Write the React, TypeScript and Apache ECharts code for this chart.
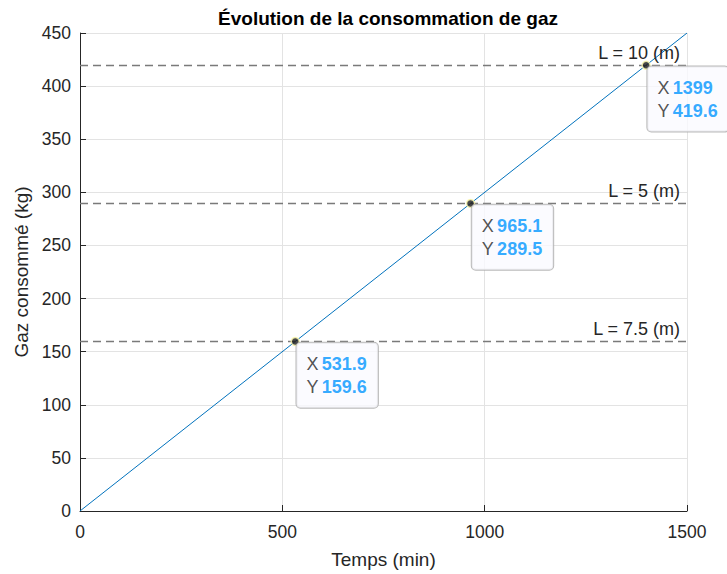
import React, { useEffect, useRef } from "react";
import * as echarts from "echarts";

const lineX = [0, 1500];
const lineY = [0, 450];
const tipX = [531.9, 965.1, 1399];
const tipY = [159.6, 289.5, 419.6];
const refValues = [419.6, 289.5, 159.6];
const refLabels = ["L = 10 (m)", "L = 5 (m)", "L = 7.5 (m)"];

const FONT = "'Liberation Sans', Arial, sans-serif";

export default function App() {
  const ref = useRef<HTMLDivElement>(null);
  useEffect(() => {
    if (!ref.current) return;
    const chart = echarts.init(ref.current, undefined, { renderer: "svg" });
    chart.setOption({
      animation: false,
      backgroundColor: "#ffffff",
      textStyle: { fontFamily: FONT },
      title: {
        text: "Évolution de la consommation de gaz",
        left: 383,
        textAlign: "center",
        top: 4,
        textStyle: { fontFamily: FONT, fontSize: 19, fontWeight: "bold", color: "#000" },
      },
      grid: { left: 80, right: 40, top: 33, bottom: 57, containLabel: false },
      xAxis: {
        type: "value",
        min: 0,
        max: 1500,
        interval: 500,
        name: "Temps (min)",
        nameLocation: "middle",
        nameGap: 39,
        nameTextStyle: { fontFamily: FONT, fontSize: 19, color: "#262626" },
        axisLine: { show: true, lineStyle: { color: "#262626", width: 1 } },
        axisTick: { show: true, inside: true, length: 6, lineStyle: { color: "#262626" } },
        axisLabel: {
          fontFamily: FONT,
          fontSize: 17.5,
          color: "#262626",
          margin: 12,
          formatter: (v: number) => String(v),
        },
        splitLine: { show: true, lineStyle: { color: "#e3e3e3", width: 1 } },
      },
      yAxis: {
        type: "value",
        min: 0,
        max: 450,
        interval: 50,
        name: "Gaz consommé (kg)",
        nameLocation: "middle",
        nameGap: 43,
        nameRotate: 90,
        nameTextStyle: { fontFamily: FONT, fontSize: 19, color: "#262626" },
        axisLine: { show: true, lineStyle: { color: "#262626", width: 1 } },
        axisTick: { show: true, inside: true, length: 6, lineStyle: { color: "#262626" } },
        axisLabel: { fontFamily: FONT, fontSize: 17.5, color: "#262626", margin: 9 },
        splitLine: { show: true, lineStyle: { color: "#e3e3e3", width: 1 } },
      },
      series: [
        {
          type: "line",
          data: lineX.map((x, i) => [x, lineY[i]]),
          showSymbol: false,
          lineStyle: { color: "#0072BD", width: 1 },
          silent: true,
          markLine: {
            silent: true,
            symbol: "none",
            lineStyle: { color: "#7a7a7a", type: [8, 5], width: 1.3 },
            label: {
              show: true,
              position: "insideEndTop",
              fontFamily: FONT,
              fontSize: 18,
              color: "#262626",
              distance: [7, 3],
            },
            data: refValues.map((v, i) => ({ yAxis: v, label: { formatter: refLabels[i] } })),
          },
          z: 3,
        },
        {
          type: "scatter",
          data: tipX.map((x, i) => [x, tipY[i]]),
          symbolSize: 8,
          itemStyle: { color: "#1a1a1a", borderColor: "#fffbb0", borderWidth: 1.5 },
          z: 5,
          label: {
            show: true,
            position: [6, 6],
            formatter: (p: any) => `{k|X} {v|${p.value[0]}}\n{k|Y} {v|${p.value[1]}}`,
            backgroundColor: "rgba(250,250,255,0.96)",
            borderColor: "#a8a8a8",
            borderWidth: 1,
            borderRadius: 4,
            padding: [10, 11, 9, 10],
            rich: {
              k: { fontFamily: FONT, fontSize: 18, color: "#262626", lineHeight: 23 },
              v: { fontFamily: FONT, fontSize: 18, color: "#0095ff", fontWeight: "bold", lineHeight: 23 },
            },
          },
        },
      ],
    });
    return () => chart.dispose();
  }, []);
  return (
    <div
      ref={ref}
      style={{ position: "absolute", left: 0, top: 0, width: 727, height: 574 }}
    />
  );
}
